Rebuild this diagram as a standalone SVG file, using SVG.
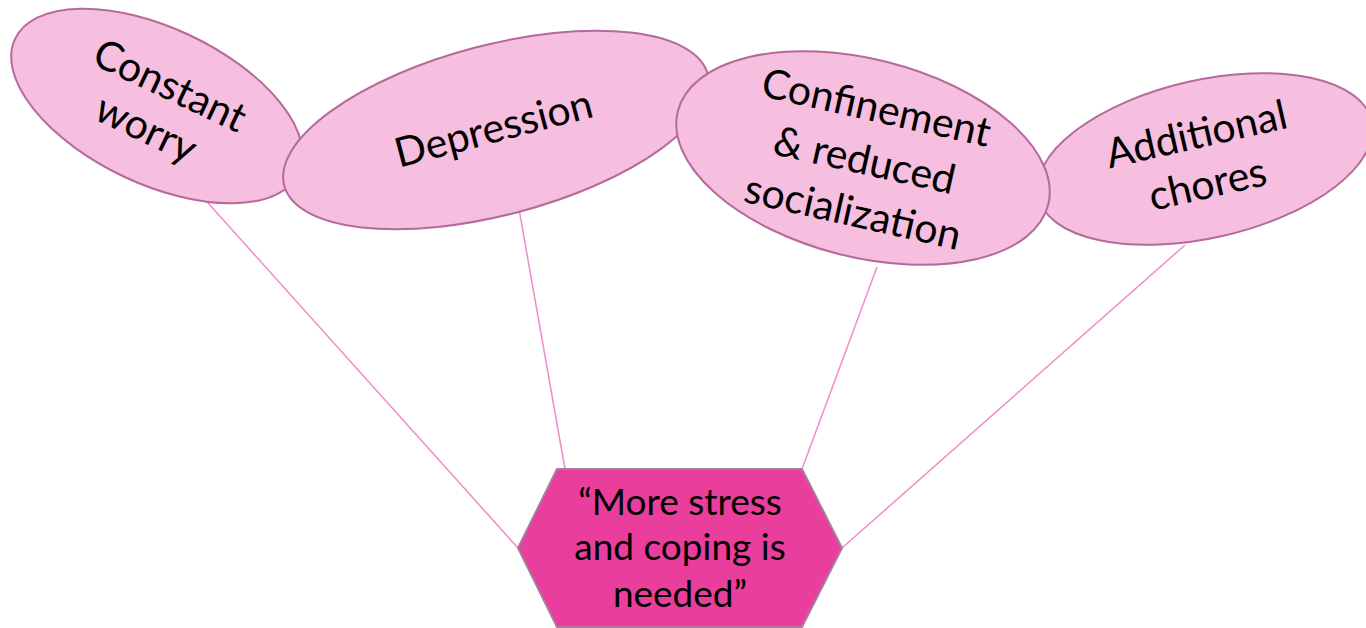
<svg xmlns="http://www.w3.org/2000/svg" width="1366" height="628" viewBox="0 0 1366 628">
<style>
.ell{fill:#F6BEDF;stroke:#B56A9C;stroke-width:2}
.hex{fill:#E93E9C;stroke:#A77C9C;stroke-width:2}
.con{stroke:#F08CC8;stroke-width:1.5;fill:none}
.t{font-family:Lato,"Open Sans",sans-serif;font-size:41px;fill:#000;text-anchor:middle}
.th{font-family:Lato,"Open Sans",sans-serif;font-size:37px;fill:#000;text-anchor:middle}
</style>
<rect width="1366" height="628" fill="#fff"/>
<g id="connectors">
<line class="con" x1="208" y1="203" x2="518" y2="548"/>
<line class="con" x1="519" y1="209" x2="565" y2="469"/>
<line class="con" x1="877" y1="267" x2="802" y2="469"/>
<line class="con" x1="1185" y1="245" x2="842" y2="548"/>
</g>
<g id="constant-worry" transform="translate(157,106) rotate(25.3)">
<ellipse class="ell" rx="157" ry="78"/>
<text class="t" x="3" y="-10">Constant</text>
<text class="t" x="0" y="39">worry</text>
</g>
<g id="depression" transform="translate(496,130) rotate(-14.7)">
<ellipse class="ell" rx="219" ry="85"/>
<text class="t" x="-2" y="12">Depression</text>
</g>
<g id="additional-chores" transform="translate(1205,159) rotate(-12.8)">
<ellipse class="ell" rx="171" ry="79"/>
<text class="t" x="-3" y="-12">Additional</text>
<text class="t" x="-3" y="39">chores</text>
</g>
<g id="confinement" transform="translate(863,158) rotate(14.2)">
<ellipse class="ell" rx="191" ry="99"/>
<g transform="rotate(-1.5)">
<text class="t" x="2" y="-38">Confinement</text>
<text class="t" x="2" y="16">&amp; reduced</text>
<text class="t" x="2" y="69">socialization</text>
</g>
</g>
<g id="more-stress">
<polygon class="hex" points="557,469 802,469 842,548 802,627 557,627 518,548"/>
<text class="th" x="680" y="515">“More stress</text>
<text class="th" x="680" y="560">and coping is</text>
<text class="th" x="680" y="607">needed”</text>
</g>
</svg>
